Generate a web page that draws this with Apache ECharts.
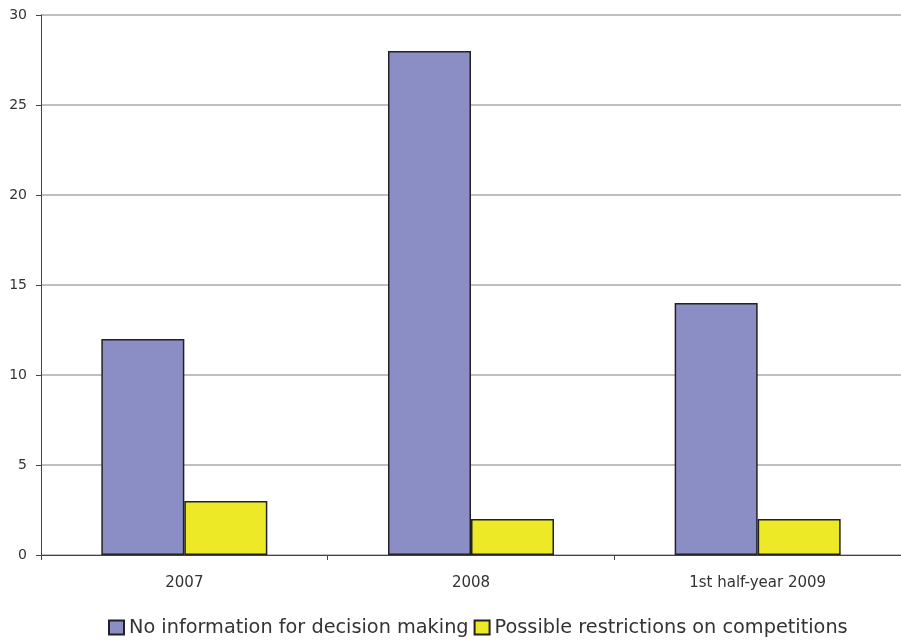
<!DOCTYPE html>
<html><head><meta charset="utf-8">
<script src="https://cdn.jsdelivr.net/npm/echarts@6/dist/echarts.min.js"></script>
<style>html,body{margin:0;padding:0;background:#fff}#c{width:901px;height:643px}</style>
</head><body><div id="c"></div>
<script>
const categories = ['2007', '2008', '1st half-year 2009'];
const noInformation = [12, 28, 14];
const possibleRestrictions = [3, 2, 2];
const seriesNames = ['No information for decision making', 'Possible restrictions on competitions'];

const chart = echarts.init(document.getElementById('c'));
const font = '"DejaVu Sans", sans-serif';
chart.setOption({
  animation: false,
  textStyle: { fontFamily: font },
  grid: { left: 41, top: 15, right: -8, bottom: 88, containLabel: false },
  legend: {
    top: 618, left: 108, padding: 0,
    itemWidth: 15, itemHeight: 14, itemGap: 5,
    textStyle: { fontSize: 19.3, color: '#333', fontFamily: font },
    data: seriesNames.map(n => ({ name: n, icon: 'rect' }))
  },
  xAxis: {
    type: 'category', data: categories,
    axisLine: { lineStyle: { color: '#444', width: 1 } },
    axisTick: { show: true, alignWithLabel: false, length: 5, lineStyle: { color: '#444' } },
    axisLabel: { fontSize: 15, color: '#333', margin: 21 }
  },
  yAxis: {
    type: 'value', min: 0, max: 30, interval: 5,
    axisLine: { show: true, lineStyle: { color: '#444', width: 1 } },
    axisTick: { show: true, length: 5, lineStyle: { color: '#444' } },
    axisLabel: { fontSize: 14, color: '#333', margin: 14 },
    splitLine: { lineStyle: { color: '#aaa', width: 1.5 } }
  },
  series: [
    { name: seriesNames[0], type: 'bar', data: noInformation, barWidth: 83, barGap: '0%',
      itemStyle: { color: '#8B8EC5', borderColor: '#222', borderWidth: 1.5 } },
    { name: seriesNames[1], type: 'bar', data: possibleRestrictions, barWidth: 83, barGap: '0%',
      itemStyle: { color: '#EDE926', borderColor: '#222', borderWidth: 1.5 } }
  ]
});
</script></body></html>
